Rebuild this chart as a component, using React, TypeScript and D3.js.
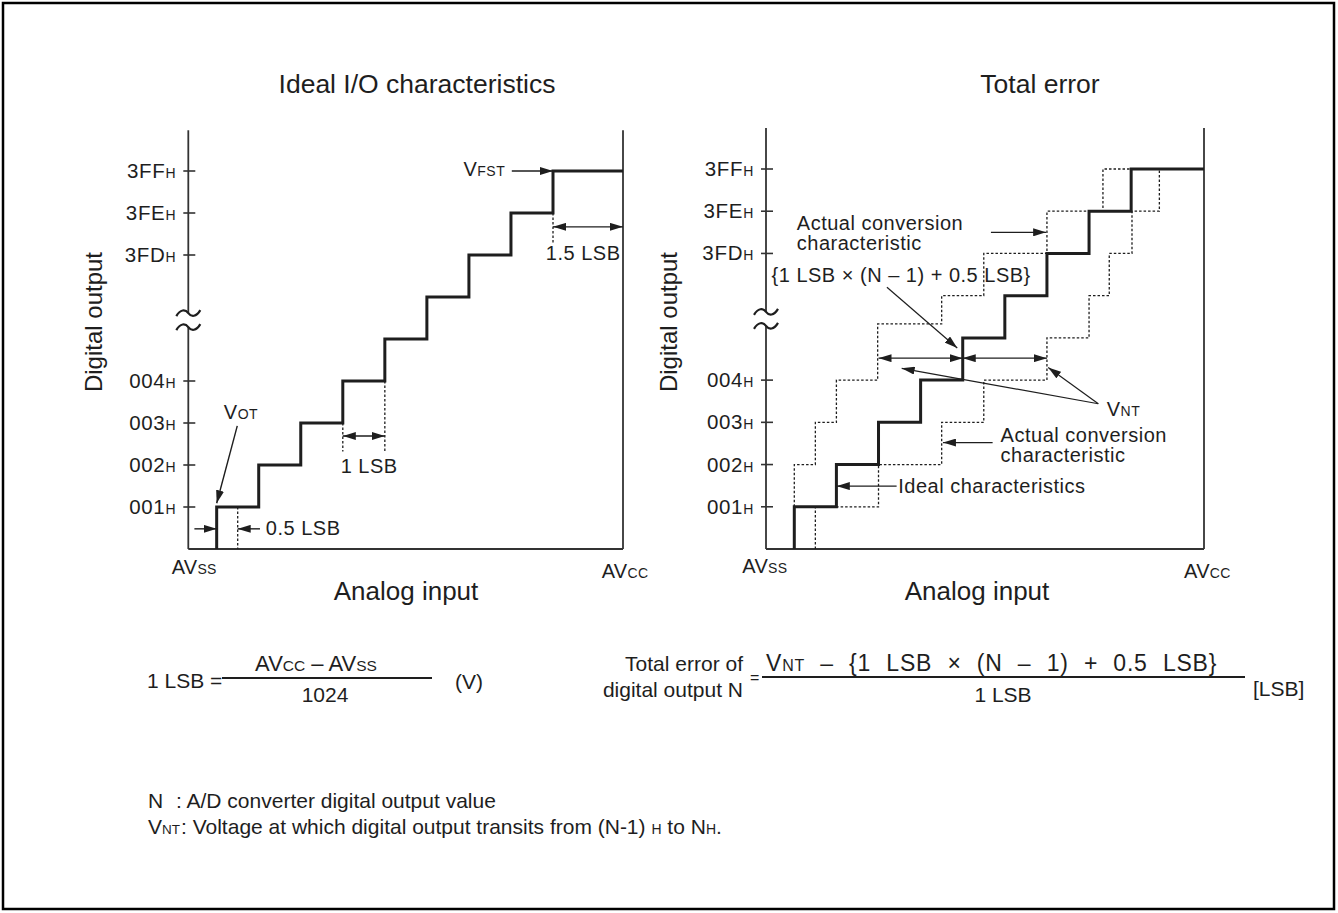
import React from "react";
import * as d3 from "d3";

const FONT = "'Liberation Sans', Arial, Helvetica, sans-serif";
const INK = "#1e1e1e";

// ---------------- data ----------------
// digital output codes shown on the y axis (code index) and their labels
const codeTicks = [1, 2, 3, 4, 7, 8, 9];
const codeTickLabels = ["001", "002", "003", "004", "3FD", "3FE", "3FF"];

// ideal characteristic: transition voltage (LSB) -> new code index
const idealTransitions = [0.5, 1.5, 2.5, 3.5, 4.5, 5.5, 6.5, 7.5, 8.5];
const idealCodes = [1, 2, 3, 4, 5, 6, 7, 8, 9];

// actual conversion characteristic (early, dotted)
const earlyStart = [0.5, 1];
const earlyTransitions = [0.5, 1.0, 1.5, 2.48, 4.0, 5.0, 6.5, 7.83, 8.52];
const earlyCodes = [2, 3, 4, 5.33, 6, 7, 8, 9, 9];

// actual conversion characteristic (late, dotted)
const lateStart = [1.0, 0];
const lateTransitions = [1.0, 2.5, 4.0, 5.0, 6.5, 7.5, 7.98, 8.52, 9.17];
const lateCodes = [1, 2, 3, 4, 5, 6, 7, 8, 9];

const leftXDomain = [-0.175, 10.165];
const rightXDomain = [-0.172, 10.23];
const codeDomain = [0, 9];
const breakCode = 5.45;
const axisTopCode = 9.97;

// ---------------- layout ----------------
const leftBox = { x0: 188.3, x1: 623, yB: 549, yT: 171 };
const rightBox = { x0: 766, x1: 1204, yB: 549, yT: 169 };

const xL = d3.scaleLinear().domain(leftXDomain).range([leftBox.x0, leftBox.x1]);
const yL = d3.scaleLinear().domain(codeDomain).range([leftBox.yB, leftBox.yT]);
const xR = d3.scaleLinear().domain(rightXDomain).range([rightBox.x0, rightBox.x1]);
const yR = d3.scaleLinear().domain(codeDomain).range([rightBox.yB, rightBox.yT]);

type Sc = d3.ScaleLinear<number, number>;

function stepPath(x: Sc, y: Sc, start: number[], ts: number[], cs: number[], end?: number[]) {
  const pts: [number, number][] = [[start[0], start[1]]];
  ts.forEach((t, k) => pts.push([t, cs[k]]));
  if (end) pts.push([end[0], end[1]]);
  const line = d3
    .line<[number, number]>()
    .x((d) => x(d[0]))
    .y((d) => y(d[1]))
    .curve(d3.curveStepAfter);
  return line(pts) || "";
}

function Arrow(p: { x1: number; y1: number; x2: number; y2: number; both?: boolean; w?: number }) {
  return (
    <line
      x1={p.x1}
      y1={p.y1}
      x2={p.x2}
      y2={p.y2}
      stroke={INK}
      strokeWidth={p.w ?? 1.4}
      markerEnd="url(#ah)"
      markerStart={p.both ? "url(#ah)" : undefined}
    />
  );
}

function Tilde({ cx, cy }: { cx: number; cy: number }) {
  const d = `M ${cx - 12} ${cy + 3} C ${cx - 8} ${cy - 4}, ${cx - 3} ${cy - 4}, ${cx} ${cy} S ${cx + 8} ${cy + 4}, ${cx + 12} ${cy - 3}`;
  return <path d={d} fill="none" stroke={INK} strokeWidth={2.2} />;
}

function Sub({ main, sub, x, y, anchor, size = 20, subSize = 14, ls = 0.5 }: any) {
  return (
    <text x={x} y={y} textAnchor={anchor || "start"} fontSize={size} fill={INK} letterSpacing={ls}>
      <tspan>{main}</tspan>
      <tspan fontSize={subSize}>{sub}</tspan>
    </text>
  );
}

function Label({ x, y, children, size = 20 }: any) {
  return (
    <text x={x} y={y} fontSize={size} fill={INK} letterSpacing={0.5}>
      {children}
    </text>
  );
}

function Frame({ x, y, box }: { x: Sc; y: Sc; box: typeof leftBox }) {
  const ax = box.x0;
  const yBreak = y(breakCode);
  const yTop = y(axisTopCode);
  return (
    <g>
      {/* y axis with break */}
      <line x1={ax} y1={box.yB} x2={ax} y2={yBreak + 7} stroke="#333" strokeWidth={1.8} />
      <line x1={ax} y1={yBreak - 7} x2={ax} y2={yTop} stroke="#333" strokeWidth={1.8} />
      <rect x={ax - 12} y={yBreak - 6} width={24} height={12} fill="#fff" />
      <Tilde cx={ax} cy={yBreak - 7} />
      <Tilde cx={ax} cy={yBreak + 7} />
      {/* bottom and right edge */}
      <line x1={ax} y1={box.yB} x2={box.x1} y2={box.yB} stroke="#333" strokeWidth={1.8} />
      <line x1={box.x1} y1={box.yB} x2={box.x1} y2={yTop} stroke="#333" strokeWidth={1.8} />
      {codeTicks.map((c, k) => (
        <g key={k}>
          <line x1={ax - 5} x2={ax + 7} y1={y(c)} y2={y(c)} stroke="#333" strokeWidth={1.6} />
          <Sub main={codeTickLabels[k]} sub="H" x={ax - 12} y={y(c) + 7} anchor="end" size={20.5} ls={0.7} />
        </g>
      ))}
    </g>
  );
}

export default function App() {
  const dot = { fill: "none", stroke: INK, strokeWidth: 1.3, strokeDasharray: "2.5 2" };
  const solid = { fill: "none", stroke: INK, strokeWidth: 3 };

  return (
    <svg
      width={1338}
      height={913}
      viewBox="0 0 1338 913"
      style={{ position: "absolute", left: 0, top: 0, background: "#fff" }}
      fontFamily={FONT}
    >
      <defs>
        <marker
          id="ah"
          viewBox="0 0 13 8"
          refX={13}
          refY={4}
          markerWidth={13}
          markerHeight={8}
          markerUnits="userSpaceOnUse"
          orient="auto-start-reverse"
        >
          <path d="M0,0 L13,4 L0,8 Z" fill={INK} />
        </marker>
      </defs>
      <rect x={3} y={3} width={1331} height={906} fill="#fff" stroke="#000" strokeWidth={2.5} />

      {/* titles */}
      <text x={417} y={93} textAnchor="middle" fontSize={26.5} fill={INK}>Ideal I/O characteristics</text>
      <text x={1040} y={93} textAnchor="middle" fontSize={26.5} fill={INK}>Total error</text>

      {/* ---------------- left chart ---------------- */}
      <Frame x={xL} y={yL} box={leftBox} />
      <text transform={`translate(102,322) rotate(-90)`} textAnchor="middle" fontSize={24} fill={INK}>Digital output</text>
      <text x={406} y={600} textAnchor="middle" fontSize={26} fill={INK}>Analog input</text>
      <Sub main="AV" sub="SS" x={171.7} y={574} ls={0.3} />
      <Sub main="AV" sub="CC" x={601.7} y={578} ls={0.3} />

      <path d={stepPath(xL, yL, [0.5, 0], idealTransitions, idealCodes, [leftXDomain[1], 9])} {...solid} />

      {/* VOT */}
      <Sub main="V" sub="OT" x={xL(0.67)} y={yL(3.1)} />
      <Arrow x1={xL(0.99)} y1={yL(2.93)} x2={xL(0.5)} y2={yL(1.09)} />
      {/* 0.5 LSB */}
      <Arrow x1={xL(-0.03)} y1={yL(0.48)} x2={xL(0.5)} y2={yL(0.48)} />
      <line x1={xL(1.0)} x2={xL(1.0)} y1={yL(1)} y2={yL(0)} {...dot} />
      <Arrow x1={xL(1.53)} y1={yL(0.48)} x2={xL(1.0)} y2={yL(0.48)} />
      <Label x={xL(1.67)} y={yL(0.33)}>0.5 LSB</Label>
      {/* 1 LSB */}
      <line x1={xL(3.5)} x2={xL(3.5)} y1={yL(3)} y2={yL(2.32)} {...dot} />
      <line x1={xL(4.5)} x2={xL(4.5)} y1={yL(4)} y2={yL(2.32)} {...dot} />
      <Arrow x1={xL(3.5)} y1={yL(2.69)} x2={xL(4.5)} y2={yL(2.69)} both />
      <Label x={xL(3.45)} y={yL(1.82)}>1 LSB</Label>
      {/* VFST */}
      <Sub main="V" sub="FST" x={xL(6.37)} y={yL(8.89)} />
      <Arrow x1={xL(7.52)} y1={yL(9)} x2={xL(8.5)} y2={yL(9)} />
      {/* 1.5 LSB */}
      <line x1={xL(8.5)} x2={xL(8.5)} y1={yL(8)} y2={yL(7.29)} {...dot} />
      <Arrow x1={xL(8.5)} y1={yL(7.67)} x2={xL(leftXDomain[1])} y2={yL(7.67)} both />
      <Label x={xL(8.33)} y={yL(6.88)}>1.5 LSB</Label>

      {/* ---------------- right chart ---------------- */}
      <Frame x={xR} y={yR} box={rightBox} />
      <text transform={`translate(677,322) rotate(-90)`} textAnchor="middle" fontSize={24} fill={INK}>Digital output</text>
      <text x={977} y={600} textAnchor="middle" fontSize={26} fill={INK}>Analog input</text>
      <Sub main="AV" sub="SS" x={742.3} y={573} ls={0.3} />
      <Sub main="AV" sub="CC" x={1184} y={578} ls={0.3} />

      <path d={stepPath(xR, yR, earlyStart, earlyTransitions, earlyCodes)} {...dot} />
      <path d={stepPath(xR, yR, lateStart, lateTransitions, lateCodes)} {...dot} />
      <path d={stepPath(xR, yR, [0.5, 0], idealTransitions, idealCodes, [rightXDomain[1], 9])} {...solid} />

      {/* upper label */}
      <Label x={xR(0.56)} y={yR(7.56)}>Actual conversion</Label>
      <Label x={xR(0.56)} y={yR(7.09)}>characteristic</Label>
      <Arrow x1={xR(5.17)} y1={yR(7.5)} x2={xR(6.48)} y2={yR(7.5)} />
      <Label x={xR(-0.04)} y={yR(6.33)}>{"{1 LSB \u00d7 (N \u2013 1) + 0.5 LSB}"}</Label>
      <Arrow x1={xR(2.7)} y1={yR(6.2)} x2={xR(4.37)} y2={yR(4.76)} w={1.2} />
      <Arrow x1={xR(2.5)} y1={yR(4.52)} x2={xR(4.5)} y2={yR(4.52)} both />
      <Arrow x1={xR(4.5)} y1={yR(4.52)} x2={xR(6.5)} y2={yR(4.52)} both />
      {/* VNT */}
      <Sub main="V" sub="NT" x={xR(7.92)} y={yR(3.15)} />
      <Arrow x1={xR(7.72)} y1={yR(3.44)} x2={xR(3.05)} y2={yR(4.28)} w={1.2} />
      <Arrow x1={xR(7.72)} y1={yR(3.44)} x2={xR(6.53)} y2={yR(4.3)} w={1.2} />
      {/* lower label */}
      <Label x={xR(5.4)} y={yR(2.54)}>Actual conversion</Label>
      <Label x={xR(5.4)} y={yR(2.07)}>characteristic</Label>
      <Arrow x1={xR(5.21)} y1={yR(2.52)} x2={xR(4.03)} y2={yR(2.52)} />
      {/* ideal label */}
      <Label x={xR(2.97)} y={yR(1.32)}>Ideal characteristics</Label>
      <Arrow x1={xR(2.93)} y1={yR(1.49)} x2={xR(1.51)} y2={yR(1.49)} />

      {/* ---------------- formulas ---------------- */}
      <text x={147} y={688} fontSize={21} fill={INK}>1 LSB =</text>
      <line x1={222} x2={432} y1={678} y2={678} stroke={INK} strokeWidth={2} />
      <text x={316} y={671} textAnchor="middle" fontSize={22} fill={INK}>
        <tspan>AV</tspan><tspan fontSize={15.5}>CC</tspan><tspan>{" \u2013  AV"}</tspan><tspan fontSize={15.5}>SS</tspan>
      </text>
      <text x={325} y={702} textAnchor="middle" fontSize={21} fill={INK}>1024</text>
      <text x={455} y={689} fontSize={21} fill={INK}>(V)</text>

      <text x={743} y={671} textAnchor="end" fontSize={21} fill={INK}>Total error of</text>
      <text x={743} y={697} textAnchor="end" fontSize={21} fill={INK}>digital output N</text>
      <text x={750} y={683} fontSize={16} fill={INK}>=</text>
      <line x1={762} x2={1245} y1={677} y2={677} stroke={INK} strokeWidth={2} />
      <text x={766} y={671} fontSize={23} fill={INK} letterSpacing={0.8} wordSpacing={8}>
        <tspan>V</tspan><tspan fontSize={16}>NT</tspan><tspan>{" \u2013  {1 LSB \u00d7 (N \u2013 1)  +  0.5 LSB}"}</tspan>
      </text>
      <text x={1003} y={702} textAnchor="middle" fontSize={21} fill={INK}>1 LSB</text>
      <text x={1253} y={696} fontSize={21} fill={INK}>[LSB]</text>

      {/* ---------------- footnotes ---------------- */}
      <text x={148} y={808} fontSize={21} fill={INK}>N</text>
      <text x={176} y={808} fontSize={21} fill={INK}>: A/D converter digital output value</text>
      <text x={148} y={834} fontSize={21} fill={INK}>
        <tspan>V</tspan><tspan fontSize={13.5}>NT</tspan>
      </text>
      <text x={181} y={834} fontSize={21} fill={INK}>
        <tspan>: Voltage at which digital output transits from (N-1) </tspan>
        <tspan fontSize={14}>H</tspan>
        <tspan> to N</tspan>
        <tspan fontSize={14}>H</tspan>
        <tspan>.</tspan>
      </text>
    </svg>
  );
}
